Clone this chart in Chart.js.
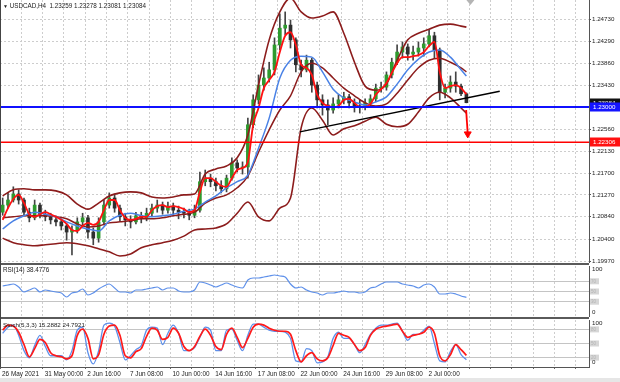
<!DOCTYPE html>
<html><head><meta charset="utf-8">
<script src="https://cdn.jsdelivr.net/npm/chart.js@4.4.0/dist/chart.umd.min.js"></script>
<style>
html,body{margin:0;padding:0;background:#fff;width:620px;height:382px;overflow:hidden;position:relative;}
canvas{position:absolute;left:0;}
.txt{position:absolute;font-family:"Liberation Sans",Arial,sans-serif;color:#222;white-space:nowrap;line-height:1;}
.sep{position:absolute;left:0;width:589px;height:2px;background:#5a5a5a;}
</style></head><body>
<canvas id="cMain" width="620" height="263" style="top:0;width:620px;height:263px"></canvas>
<div class="sep" style="top:263px"></div>
<canvas id="cRsi" width="620" height="52" style="top:265px;width:620px;height:52px"></canvas>
<div class="sep" style="top:317px"></div>
<canvas id="cSto" width="620" height="63" style="top:319px;width:620px;height:63px"></canvas>
<div style="position:absolute;left:0;top:0;width:1px;height:367px;background:#444"></div>
<div style="position:absolute;left:0;top:378px;width:620px;height:4px;background:#e6e6e6"></div>
<div class="txt" style="left:3px;top:3px;font-size:6.3px"><span style="font-size:5px">▼</span> USDCAD,H4&nbsp; 1.23259 1.23278 1.23081 1.23084</div>
<div class="txt" style="left:3px;top:267px;font-size:6.3px">RSI(14) 38.4776</div>
<div class="txt" style="left:3px;top:322px;font-size:6.2px">Stoch(5,3,3) 15.2882 24.7921</div>
<script>
// ---------- DATA ----------
const timeLabels = ['26 May 2021','31 May 00:00','2 Jun 16:00','7 Jun 08:00','10 Jun 00:00','14 Jun 16:00','17 Jun 08:00','22 Jun 00:00','24 Jun 16:00','29 Jun 08:00','2 Jul 00:00'];
const labelBars = [0,16,32,48,64,80,96,112,128,144,160];
const priceTicks = [1.24730,1.24290,1.23860,1.23430,1.23000,1.22560,1.22130,1.21700,1.21270,1.20840,1.20400,1.19970];

const candleOpen = [1.2093,1.2107,1.2117,1.2129,1.2117,1.2093,1.2082,1.2107,1.2089,1.2084,
1.2078,1.2074,1.2066,1.2054,1.2058,1.2074,1.2082,1.2054,1.2042,1.2074,
1.2107,1.2121,1.2101,1.2084,1.2078,1.2074,1.2086,1.2082,1.2091,1.2101,
1.2107,1.2097,1.2105,1.2097,1.2093,1.2091,1.2087,1.2097,1.2153,1.2160,
1.2153,1.2145,1.2139,1.2160,1.2190,1.2180,1.2182,1.2265,1.2314,1.2343,
1.2357,1.2373,1.2422,1.2455,1.2461,1.2432,1.2383,1.2373,1.2392,1.2343,
1.2314,1.2304,1.2294,1.2306,1.2314,1.2320,1.2308,1.2302,1.2300,1.2308,
1.2316,1.2337,1.2339,1.2363,1.2388,1.2408,1.2418,1.2404,1.2408,1.2416,
1.2424,1.2440,1.2412,1.2329,1.2337,1.2349,1.2341,1.23259];
const candleHigh = [1.2121,1.2131,1.2143,1.2137,1.2121,1.2101,1.2117,1.2111,1.2097,1.2091,
1.2086,1.2080,1.2070,1.2066,1.2082,1.2091,1.2087,1.2062,1.2082,1.2117,
1.2131,1.2129,1.2107,1.2091,1.2086,1.2093,1.2093,1.2101,1.2109,1.2117,
1.2113,1.2113,1.2111,1.2105,1.2101,1.2099,1.2107,1.2172,1.2176,1.2168,
1.2160,1.2155,1.2166,1.2200,1.2196,1.2192,1.2278,1.2324,1.2363,1.2377,
1.2388,1.2436,1.2483,1.2487,1.2471,1.2436,1.2392,1.2402,1.2396,1.2349,
1.2324,1.2314,1.2318,1.2324,1.2329,1.2325,1.2316,1.2314,1.2316,1.2324,
1.2345,1.2349,1.2369,1.2396,1.2422,1.2428,1.2424,1.2420,1.2428,1.2436,
1.2451,1.2447,1.2416,1.2345,1.2361,1.2369,1.2345,1.23278];
const candleLow = [1.2087,1.2101,1.2113,1.2109,1.2086,1.2074,1.2078,1.2082,1.2076,1.2070,
1.2066,1.2058,1.2038,1.2009,1.2052,1.2066,1.2042,1.2029,1.2034,1.2068,
1.2101,1.2093,1.2076,1.2066,1.2062,1.2070,1.2072,1.2076,1.2086,1.2093,
1.2089,1.2091,1.2087,1.2080,1.2082,1.2078,1.2082,1.2093,1.2145,1.2143,
1.2135,1.2131,1.2133,1.2156,1.2172,1.2168,1.2160,1.2259,1.2306,1.2333,
1.2349,1.2363,1.2412,1.2442,1.2416,1.2369,1.2359,1.2369,1.2329,1.2298,
1.2284,1.2265,1.2288,1.2298,1.2306,1.2298,1.2290,1.2288,1.2294,1.2300,
1.2310,1.2329,1.2333,1.2357,1.2383,1.2396,1.2392,1.2392,1.2400,1.2400,
1.2418,1.2396,1.2314,1.2318,1.2329,1.2329,1.2322,1.23081];
const candleClose = [1.2107,1.2117,1.2129,1.2117,1.2093,1.2082,1.2107,1.2089,1.2084,1.2078,
1.2074,1.2066,1.2054,1.2058,1.2074,1.2082,1.2054,1.2042,1.2074,1.2107,
1.2121,1.2101,1.2084,1.2078,1.2074,1.2086,1.2082,1.2091,1.2101,1.2107,
1.2097,1.2105,1.2097,1.2093,1.2091,1.2087,1.2097,1.2153,1.2160,1.2153,
1.2145,1.2139,1.2160,1.2190,1.2180,1.2182,1.2265,1.2314,1.2343,1.2357,
1.2373,1.2422,1.2455,1.2461,1.2432,1.2383,1.2373,1.2392,1.2343,1.2314,
1.2304,1.2294,1.2306,1.2314,1.2320,1.2308,1.2302,1.2300,1.2308,1.2316,
1.2337,1.2339,1.2363,1.2388,1.2408,1.2418,1.2404,1.2408,1.2416,1.2424,
1.2440,1.2412,1.2329,1.2337,1.2349,1.2341,1.2326,1.23084];

const fastMA = [1.2078,1.2101,1.2119,1.2127,1.2111,1.2089,1.2084,1.2089,1.2093,1.2089,
1.2084,1.2078,1.2070,1.2058,1.2056,1.2066,1.2072,1.2068,1.2074,1.2097,
1.2117,1.2117,1.2097,1.2082,1.2078,1.2080,1.2084,1.2084,1.2097,1.2105,
1.2107,1.2103,1.2105,1.2103,1.2099,1.2093,1.2097,1.2133,1.2160,1.2160,
1.2153,1.2145,1.2143,1.2160,1.2176,1.2180,1.2192,1.2265,1.2298,1.2337,
1.2353,1.2369,1.2408,1.2440,1.2447,1.2422,1.2383,1.2377,1.2363,1.2324,
1.2308,1.2302,1.2300,1.2302,1.2314,1.2316,1.2308,1.2300,1.2300,1.2306,
1.2324,1.2335,1.2347,1.2367,1.2386,1.2398,1.2398,1.2400,1.2402,1.2408,
1.2420,1.2428,1.2369,1.2337,1.2341,1.2343,1.2337,1.2325];

const bbUpper = [1.2125,1.2137,1.2139,1.2137,1.2137,1.2135,1.2127,1.2109,1.2099,1.2111,
1.2125,1.2131,1.2133,1.2131,1.2123,1.2121,1.2123,1.2127,1.2129,1.2168,
1.2178,1.2184,1.2200,1.2245,1.2343,1.2432,1.2487,1.2514,1.2487,1.2475,
1.2479,1.2487,1.2445,1.2388,1.2341,1.2333,1.2345,1.2392,1.2432,1.2445,
1.2453,1.2461,1.2463,1.2459,1.2457];
const bbMiddle = [1.2082,1.2084,1.2086,1.2086,1.2086,1.2084,1.2080,1.2070,1.2064,1.2066,
1.2072,1.2074,1.2076,1.2080,1.2080,1.2082,1.2086,1.2089,1.2093,1.2111,
1.2121,1.2127,1.2141,1.2164,1.2211,1.2255,1.2294,1.2322,1.2369,1.2386,
1.2377,1.2357,1.2337,1.2322,1.2308,1.2302,1.2306,1.2327,1.2353,1.2377,
1.2392,1.2396,1.2388,1.2377,1.2369];
const bbLower = [1.2042,1.2033,1.2029,1.2027,1.2029,1.2031,1.2033,1.2031,1.2027,1.2021,
1.2015,1.2007,1.2011,1.2023,1.2029,1.2033,1.2038,1.2046,1.2058,1.2060,
1.2062,1.2070,1.2091,1.2113,1.2084,1.2076,1.2101,1.2121,1.2259,1.2298,
1.2274,1.2245,1.2257,1.2263,1.2272,1.2280,1.2266,1.2261,1.2266,1.2290,
1.2318,1.2329,1.2318,1.2298,1.2288];
const slowMA = [1.2060,1.2076,1.2086,1.2093,1.2089,1.2084,1.2074,1.2066,1.2060,1.2056,
1.2076,1.2087,1.2091,1.2086,1.2084,1.2086,1.2089,1.2095,1.2099,1.2113,
1.2125,1.2141,1.2153,1.2166,1.2219,1.2278,1.2357,1.2392,1.2400,1.2398,
1.2369,1.2335,1.2318,1.2310,1.2304,1.2310,1.2320,1.2345,1.2373,1.2394,
1.2408,1.2412,1.2398,1.2373,1.2361];

const rsiValues = [60.8,62.7,64.7,58.8,49.0,52.9,56.9,49.0,52.9,51.0,
49.0,47.1,39.2,47.1,49.0,54.9,43.1,47.1,54.9,60.8,
64.7,56.9,49.0,49.0,47.1,52.9,52.9,54.9,56.9,58.8,
52.9,56.9,56.9,51.0,49.0,49.0,52.9,68.6,66.7,62.7,
58.8,62.7,66.7,62.7,58.8,56.9,72.5,76.5,76.5,78.4,
80.4,82.4,80.4,78.4,64.7,56.9,58.8,52.9,49.0,47.1,
43.1,47.1,47.1,49.0,51.0,49.0,49.0,47.1,49.0,56.9,
58.8,64.7,68.6,68.6,68.6,64.7,62.7,60.8,56.9,62.7,
64.7,58.8,45.1,45.1,47.1,45.1,41.2,38.48];
const stochMain = [71.7,84.8,89.1,67.4,34.8,19.6,45.7,67.4,43.5,23.9,
23.9,23.9,15.2,34.8,78.3,84.8,30.4,6.5,34.8,89.1,
93.5,87.0,52.2,15.2,23.9,37.0,45.7,78.3,84.8,82.6,
47.8,71.7,89.1,71.7,34.8,34.8,41.3,63.0,84.8,78.3,
34.8,34.8,78.3,80.4,56.5,34.8,67.4,91.3,91.3,84.8,
78.3,76.1,76.1,73.9,60.9,13.0,10.9,39.1,34.8,8.7,
10.9,21.7,60.9,73.9,60.9,60.9,47.8,30.4,47.8,69.6,
82.6,89.1,89.1,91.3,93.5,76.1,56.5,69.6,69.6,78.3,
87.0,50.0,13.0,10.9,32.6,47.8,26.1,15.29];
const stochSignal = [78.3,89.1,87.0,73.9,47.8,21.7,39.1,58.7,52.2,30.4,
23.9,21.7,17.4,23.9,67.4,80.4,60.9,17.4,26.1,69.6,
87.0,89.1,67.4,23.9,19.6,32.6,39.1,65.2,82.6,78.3,
58.7,63.0,82.6,71.7,43.5,34.8,43.5,65.2,80.4,67.4,
43.5,37.0,69.6,82.6,63.0,41.3,60.9,84.8,91.3,89.1,
82.6,78.3,76.1,76.1,69.6,34.8,10.9,23.9,30.4,17.4,
13.0,19.6,45.7,71.7,67.4,63.0,47.8,34.8,41.3,67.4,
80.4,84.8,87.0,89.1,91.3,76.1,63.0,67.4,69.6,73.9,
84.8,71.7,23.9,13.0,26.1,47.8,37.0,24.79];

const rsiLevels = [70,50,30];
const stochLevels = [80,50,20];
const blueLevel = 1.23000;
const redLevel = 1.22306;
const trendBars = [112.0, 187.0];
const trendPrices = [1.2251, 1.2331];
const arrowBars = [174.4, 175.0];
const arrowPrices = [1.2294, 1.2247];
const tagPrices = [1.23084, 1.23000, 1.22306];
const tagTexts = ['1.23084','1.23000','1.22306'];

// ---------- SETUP ----------
const xMin = -0.5, xMax = 220.5;
const yMin = 1.19931, yMax = 1.25104;
const FONT = 'Liberation Sans';
const candlePos = candleOpen.map((_, j) => 2 * j + 0.5);
const bandPos = bbUpper.map((_, k) => k < 44 ? 4 * k + 0.5 : 174.5);
const gridBars = [];
for (let k = 0; 8 * k - 0.5 <= xMax; k++) gridBars.push(8 * k - 0.5);
const pts = (xs, ys) => ys.map((v, i) => ({x: xs[i], y: v}));

function xAxis(showLabels) {
  return {
    type: 'linear', min: xMin, max: xMax, offset: false, display: true,
    afterBuildTicks: s => { s.ticks = gridBars.map(v => ({value: v})); },
    afterFit: s => { s.height = showLabels ? 15 : 0; s.paddingLeft = 0; s.paddingRight = 0; },
    grid: {display: true, drawOnChartArea: true, drawTicks: showLabels, tickLength: 2,
      color: '#cdcdcd', tickColor: '#666', tickBorderDash: [], offset: false},
    border: {display: showLabels, color: '#555', dash: [2, 2]},
    ticks: {display: showLabels, autoSkip: false, maxRotation: 0, minRotation: 0, align: 'start',
      padding: 1, labelOffset: 2, color: '#222', font: {family: FONT, size: 6.4},
      callback: v => { const k = labelBars.indexOf(v + 0.5); return k >= 0 ? timeLabels[k] : ''; }}
  };
}
function subY(levels) {
  return {
    type: 'linear', position: 'right', min: 0, max: 100,
    afterBuildTicks: s => { s.ticks = levels.map(v => ({value: v})); },
    afterFit: s => { s.width = 31; s.paddingTop = 0; s.paddingBottom = 0; },
    grid: {color: '#c4c4c4', drawTicks: false},
    border: {display: true, color: '#555'},
    ticks: {display: false}
  };
}
function panelPlugin(levels) {
  return {id: 'panelLabels', afterDraw(chart) {
    const {ctx, scales: {y}, chartArea} = chart;
    ctx.save();
    ctx.textBaseline = 'middle';
    levels.forEach(v => {
      const py = y.getPixelForValue(v);
      ctx.fillStyle = '#d6d6d6'; ctx.fillRect(590, py - 3, 9, 6);
      ctx.fillStyle = '#b2b2b2'; ctx.font = '4.5px ' + FONT; ctx.fillText(String(v), 591, py);
    });
    ctx.fillStyle = '#222'; ctx.font = '6.2px ' + FONT;
    ctx.fillText('100', 592, chartArea.top + 3.5);
    ctx.fillText('0', 592, chartArea.bottom - 4.5);
    ctx.restore();
  }};
}
const tagPlugin = {id: 'tags', afterDraw(chart) {
  const {ctx, scales: {x, y}} = chart;
  const bgs = ['#111111', '#1414ff', '#ff1010'];
  ctx.save();
  ctx.textBaseline = 'middle';
  ctx.font = '6.2px ' + FONT;
  tagPrices.forEach((v, i) => {
    const py = Math.round(y.getPixelForValue(v));
    ctx.fillStyle = bgs[i]; ctx.fillRect(590, py - 4.5, 30, 9);
    ctx.fillStyle = '#ffffff'; ctx.fillText(tagTexts[i], 593, py);
  });
  const sx = x.getPixelForValue(176);
  ctx.fillStyle = '#b4b4b4';
  ctx.beginPath(); ctx.moveTo(sx - 4, 0); ctx.lineTo(sx + 4, 0); ctx.lineTo(sx, 5); ctx.closePath(); ctx.fill();
  ctx.restore();
}};

const baseOpts = {
  responsive: false, animation: false, devicePixelRatio: 1,
  plugins: {legend: {display: false}, tooltip: {enabled: false}},
  elements: {point: {radius: 0}, line: {cubicInterpolationMode: 'monotone'}}
};
const lineDs = (data, color, width, order) => ({type: 'line', data, borderColor: color, borderWidth: width,
  pointRadius: 0, fill: false, order, borderJoinStyle: 'round'});
const straight = {tension: 0, cubicInterpolationMode: 'default'};

const bull = '#2e9a2e', bear = '#2e2e2e';
new Chart(document.getElementById('cMain'), {
  type: 'line',
  data: {datasets: [
    Object.assign(lineDs(pts([xMin, xMax], [blueLevel, blueLevel]), '#1010ff', 2, 0), straight),
    Object.assign(lineDs(pts([xMin, xMax], [redLevel, redLevel]), '#ff0000', 1.6, 0), straight),
    Object.assign(lineDs(pts(trendBars, trendPrices), '#000000', 1.4, 0), straight),
    Object.assign(lineDs(pts(arrowBars, arrowPrices), '#ff0000', 1.8, 0), straight, {
      pointRadius: [0, 4], pointStyle: 'triangle', pointRotation: 180, pointBackgroundColor: '#ff0000', pointBorderColor: '#ff0000', pointBorderWidth: 1}),
    lineDs(pts(candlePos, fastMA), '#ff1111', 1.8, 1),
    lineDs(pts(bandPos, slowMA), '#4a82e6', 1.5, 2),
    lineDs(pts(bandPos, bbUpper), '#8c1c1c', 1.6, 3),
    lineDs(pts(bandPos, bbMiddle), '#8c1c1c', 1.5, 3),
    lineDs(pts(bandPos, bbLower), '#8c1c1c', 1.6, 3),
    {type: 'bar', order: 5, grouped: false, barThickness: 3, minBarLength: 1, borderWidth: 0,
      data: candlePos.map((p, j) => ({x: p, y: [candleOpen[j], candleClose[j]]})),
      backgroundColor: c => (c.dataIndex !== undefined && candleClose[c.dataIndex] >= candleOpen[c.dataIndex]) ? bull : bear},
    {type: 'bar', order: 6, grouped: false, barThickness: 1, borderWidth: 0, backgroundColor: '#444444',
      data: candlePos.map((p, j) => ({x: p, y: [candleLow[j], candleHigh[j]]}))}
  ]},
  options: Object.assign({}, baseOpts, {
    layout: {autoPadding: false, padding: 0},
    scales: {
      x: xAxis(false),
      y: {type: 'linear', position: 'right', min: yMin, max: yMax,
        afterBuildTicks: s => { s.ticks = priceTicks.map(v => ({value: v})); },
        afterFit: s => { s.width = 31; s.paddingTop = 0; s.paddingBottom = 0; },
        grid: {color: '#cdcdcd', drawTicks: true, tickLength: 2, tickColor: '#555', tickBorderDash: []},
        border: {display: true, color: '#555', dash: [2, 2]},
        ticks: {padding: 1, color: '#222', font: {family: FONT, size: 6.2}, callback: v => Number(v).toFixed(5)}}
    }
  }),
  plugins: [tagPlugin]
});

new Chart(document.getElementById('cRsi'), {
  type: 'line',
  data: {datasets: [lineDs(pts(candlePos, rsiValues), '#5e90ea', 1.2, 0)]},
  options: Object.assign({}, baseOpts, {
    layout: {autoPadding: false, padding: {top: 1, bottom: 0, left: 0, right: 0}},
    scales: {x: xAxis(false), y: subY(rsiLevels)}
  }),
  plugins: [panelPlugin(rsiLevels)]
});

new Chart(document.getElementById('cSto'), {
  type: 'line',
  data: {datasets: [
    lineDs(pts(candlePos, stochSignal), '#ff1a1a', 1.7, 0),
    lineDs(pts(candlePos, stochMain), '#5e90ea', 1.3, 1)
  ]},
  options: Object.assign({}, baseOpts, {
    layout: {autoPadding: false, padding: {top: 1, bottom: 0, left: 0, right: 0}},
    scales: {x: xAxis(true), y: subY(stochLevels)}
  }),
  plugins: [panelPlugin(stochLevels)]
});
</script>
</body></html>
